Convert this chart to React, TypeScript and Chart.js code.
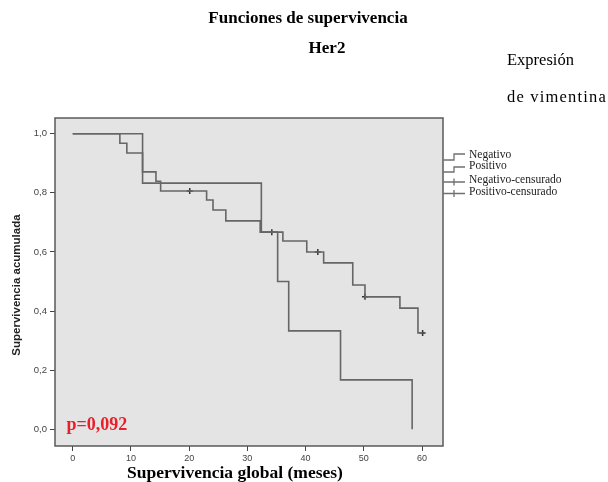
import React, { useEffect, useRef } from 'react';
import { Chart, registerables } from 'chart.js';

Chart.register(...registerables);

// ---- Data ----
const xTicks = [0, 10, 20, 30, 40, 50, 60];
const yTicks = [0, 0.2, 0.4, 0.6, 0.8, 1.0];

const negTimes = [0, 8.1, 9.3, 12, 14.3, 15.1, 23.0, 24.1, 26.3, 32.2, 36.1, 40.2, 43.1, 48.1, 50.2, 56.2, 59.3, 60.1];
const negSurv = [1.0, 0.968, 0.935, 0.871, 0.839, 0.806, 0.776, 0.742, 0.705, 0.667, 0.637, 0.600, 0.563, 0.488, 0.448, 0.410, 0.326, 0.326];

const posTimes = [0, 12, 32.4, 35.2, 37.1, 46.0, 58.3];
const posSurv = [1.0, 0.833, 0.667, 0.500, 0.333, 0.167, 0.0];

const negCensTimes = [20.1, 34.2, 42.1, 50.2, 60.1];
const negCensSurv = [0.806, 0.667, 0.600, 0.448, 0.326];

const posCensTimes: number[] = [];
const posCensSurv: number[] = [];

const legendLabels = ['Negativo', 'Positivo', 'Negativo-censurado', 'Positivo-censurado'];
const titleLines = ['Funciones de supervivencia', 'Her2'];
const sideLines = ['Expresión', 'de vimentina'];
const xTitle = 'Supervivencia global (meses)';
const yTitle = 'Supervivencia acumulada';
const pValue = 'p=0,092';

const SERIF = '"Liberation Serif", "Times New Roman", Times, serif';
const SANS = '"Liberation Sans", Arial, Helvetica, sans-serif';

const toPoints = (xs: number[], ys: number[]) => xs.map((x, i) => ({ x, y: ys[i] }));

const decorPlugin = {
  id: 'kmDecor',
  beforeDatasetsDraw(chart: any) {
    const { ctx, chartArea } = chart;
    const { left, top, right, bottom } = chartArea;
    ctx.save();
    ctx.fillStyle = '#e4e4e4';
    ctx.fillRect(left, top, right - left, bottom - top);
    ctx.restore();
  },
  afterDraw(chart: any) {
    const { ctx, chartArea } = chart;
    const { left, top, right, bottom } = chartArea;
    ctx.save();
    // frame
    ctx.strokeStyle = '#5a5a5a';
    ctx.lineWidth = 1.5;
    ctx.strokeRect(left, top, right - left, bottom - top);

    // titles
    ctx.fillStyle = '#000';
    ctx.textBaseline = 'alphabetic';
    ctx.textAlign = 'center';
    ctx.font = `bold 17px ${SERIF}`;
    ctx.fillText(titleLines[0], 308, 23);
    ctx.fillText(titleLines[1], 327, 53);

    ctx.textAlign = 'left';
    ctx.font = `16.5px ${SERIF}`;
    ctx.fillText(sideLines[0], 507, 65);
    (ctx as any).letterSpacing = '1.2px';
    ctx.fillText(sideLines[1], 507, 101.5);
    (ctx as any).letterSpacing = '0px';

    // x title
    ctx.textAlign = 'center';
    ctx.font = `bold 17.5px ${SERIF}`;
    ctx.fillText(xTitle, 235, 478);

    // y title
    ctx.save();
    ctx.translate(17, 285);
    ctx.rotate(-Math.PI / 2);
    ctx.font = `bold 11.5px ${SANS}`;
    ctx.fillStyle = '#222';
    ctx.textBaseline = 'middle';
    ctx.fillText(yTitle, 0, 0);
    ctx.restore();

    // p value
    ctx.textAlign = 'left';
    ctx.fillStyle = '#e8202a';
    ctx.font = `bold 18px ${SERIF}`;
    ctx.fillText(pValue, 66.5, 430);

    // legend
    const lx0 = right;
    const lx1 = right + 22;
    const lxm = right + 11;
    ctx.strokeStyle = '#707070';
    ctx.lineWidth = 1.3;
    const stepYs = [[160, 154], [172, 167]];
    stepYs.forEach(([a, b]) => {
      ctx.beginPath();
      ctx.moveTo(lx0, a);
      ctx.lineTo(lxm, a);
      ctx.lineTo(lxm, b);
      ctx.lineTo(lx1, b);
      ctx.stroke();
    });
    [182, 193.5].forEach((y) => {
      ctx.beginPath();
      ctx.moveTo(lx0, y);
      ctx.lineTo(lx1, y);
      ctx.moveTo(lxm, y - 3.5);
      ctx.lineTo(lxm, y + 3.5);
      ctx.stroke();
    });
    ctx.fillStyle = '#222';
    ctx.font = `11.5px ${SERIF}`;
    const baselines = [157.5, 169, 183, 195];
    legendLabels.forEach((t, i) => ctx.fillText(t, 469, baselines[i]));
    ctx.restore();
  },
};

export default function App() {
  const ref = useRef<HTMLCanvasElement | null>(null);

  useEffect(() => {
    if (!ref.current) return;
    const lineColor = '#666666';
    const chart = new Chart(ref.current, {
      type: 'line',
      data: {
        datasets: [
          {
            label: legendLabels[0],
            data: toPoints(negTimes, negSurv),
            stepped: true,
            borderColor: lineColor,
            borderWidth: 1.6,
            pointRadius: 0,
            fill: false,
          },
          {
            label: legendLabels[1],
            data: toPoints(posTimes, posSurv),
            stepped: true,
            borderColor: lineColor,
            borderWidth: 1.6,
            pointRadius: 0,
            fill: false,
          },
          {
            label: legendLabels[2],
            data: toPoints(negCensTimes, negCensSurv),
            showLine: false,
            pointStyle: 'cross',
            pointRadius: 3,
            borderColor: '#333',
            borderWidth: 1.5,
          },
          {
            label: legendLabels[3],
            data: toPoints(posCensTimes, posCensSurv),
            showLine: false,
            pointStyle: 'cross',
            pointRadius: 3,
            borderColor: '#333',
            borderWidth: 1.5,
          },
        ],
      },
      options: {
        responsive: false,
        animation: false,
        parsing: false,
        layout: { padding: { left: 0, top: 118, right: 165, bottom: 0 } },
        plugins: {
          legend: { display: false },
          title: { display: false },
          tooltip: { enabled: false },
        },
        scales: {
          x: {
            type: 'linear',
            min: -3.04,
            max: 63.6,
            afterBuildTicks: (scale: any) => {
              scale.ticks = xTicks.map((v) => ({ value: v }));
            },
            afterFit: (scale: any) => {
              scale.height = 36;
            },
            grid: { display: true, drawOnChartArea: false, drawTicks: true, tickLength: 5, color: '#444' },
            border: { display: false },
            ticks: {
              padding: 2,
              color: '#444',
              font: { family: SANS, size: 9 },
              maxRotation: 0,
              callback: (v: any) => String(v),
            },
          },
          y: {
            type: 'linear',
            min: -0.0566,
            max: 1.0532,
            afterBuildTicks: (scale: any) => {
              scale.ticks = yTicks.map((v) => ({ value: v }));
            },
            afterFit: (scale: any) => {
              scale.width = 55;
            },
            grid: { display: true, drawOnChartArea: false, drawTicks: true, tickLength: 5, color: '#444' },
            border: { display: false },
            ticks: {
              padding: 3,
              color: '#444',
              font: { family: SANS, size: 9.5 },
              callback: (v: any) => Number(v).toFixed(1).replace('.', ','),
            },
          },
        },
      },
      plugins: [decorPlugin],
    } as any);
    return () => chart.destroy();
  }, []);

  return (
    <div style={{ position: 'fixed', left: 0, top: 0, width: 608, height: 482, background: '#fff' }}>
      <canvas ref={ref} width={608} height={482} style={{ width: 608, height: 482, display: 'block' }} />
    </div>
  );
}
